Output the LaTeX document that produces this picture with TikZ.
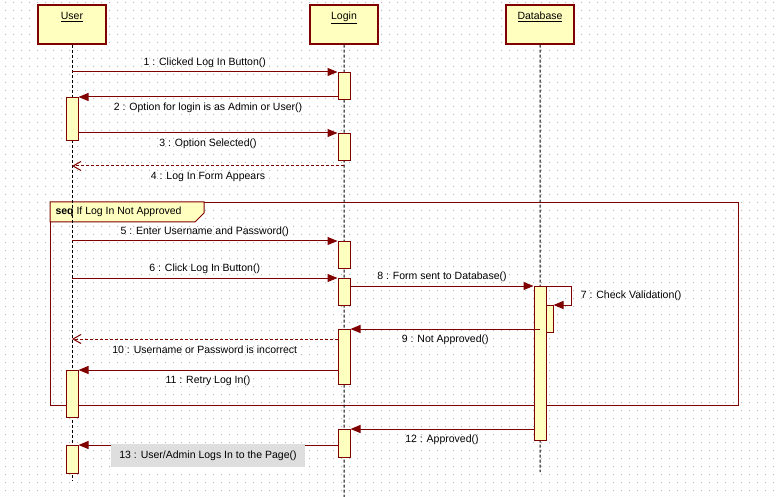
\documentclass[tikz,border=0pt]{standalone}
\usepackage{fontspec}
\setmainfont{Liberation Sans}
\usepackage{tikz}
\usetikzlibrary{positioning}
\usetikzlibrary{arrows.meta}
\definecolor{umlred}{HTML}{800000}
\definecolor{umlfill}{HTML}{FFFFC0}
\definecolor{dotgray}{HTML}{B8B8B8}

\begin{document}
\begin{tikzpicture}[x=1pt,y=-1pt,line width=1pt,
    every node/.style={font=\fontsize{10.5}{12}\selectfont},
    head/.style={draw=umlred, line width=1.3pt, fill=umlfill, minimum width=68pt, minimum height=39pt, text height=8pt, text depth=17pt, inner sep=0pt},
    bar/.style={draw=umlred, fill=umlfill, minimum width=12pt, inner sep=0pt, anchor=north},
    life/.style={black, dash pattern=on 3pt off 2pt},
    msg/.style={umlred, -{Triangle[length=10pt,width=8pt]}},
    reply/.style={umlred, dash pattern=on 3pt off 2pt, -{Straight Barb[length=8pt,width=9pt]}},
    msgup/.style={midway, yshift=9.5pt, text=black},
    msgdn/.style={midway, yshift=-11pt, text=black}]
    \useasboundingbox (0,0) rectangle (779,497);
    \fill[white] (0,0) rectangle (779,497);
    %Grid
    \fill[dotgray] \foreach \i in {0,...,96} {\foreach \j in {0,...,61} {(8*\i+5,8*\j+2) rectangle ++(1,1)}};
    %Frame
    \node[draw=umlred, minimum width=688pt, minimum height=203pt, anchor=north west, inner sep=0pt] (seqframe) at (50,202) {};
    \filldraw[draw=umlred, fill=umlfill] (seqframe.north west) -- ++(154,0) -- ++(0,11) -- ++(-9,9) -- ++(-145,0) -- cycle;
    \node[anchor=west, inner sep=0pt] (seqtag) at (55,212) {\textbf{seq} If Log In Not Approved};
    %Heads
    \node[head] (user) at (72,24.5) {\underline{User}};
    \node[head, right=202.7pt of user] (login) {\underline{Login}};
    \node[head, right=126.7pt of login] (db) {\underline{Database}};
    \coordinate (userend) at (72,480);
    \coordinate (loginend) at (344,497);
    \coordinate (dbend) at (540,472);
    %Lifelines
    \draw[life] (user.south) -- (userend);
    \draw[life] (login.south) -- (loginend);
    \draw[life] (db.south) -- (dbend);
    %Bars
    \node[bar, minimum height=27pt] (lb1) at (344,72) {};
    \node[bar, minimum height=43pt] (ub1) at (72,97) {};
    \node[bar, minimum height=27pt] (lb2) at (344,133) {};
    \node[bar, minimum height=27pt] (lb3) at (344,241) {};
    \node[bar, minimum height=27pt] (lb4) at (344,278) {};
    \node[bar, minimum height=27pt] (db2) at (547,305) {};
    \node[bar, minimum height=154pt] (db1) at (540,286) {};
    \node[bar, minimum height=55pt] (lb5) at (344,329) {};
    \node[bar, minimum height=47pt] (ub2) at (72,370) {};
    \node[bar, minimum height=28pt] (lb6) at (344,429) {};
    \node[bar, minimum height=28pt] (ub3) at (72,445) {};
    \coordinate (m4) at (344,166);
    \coordinate (m10) at ([yshift=-10pt]lb5.north west);
    %Messages
    \draw[msg] (user |- lb1.north) -- (lb1.north west) node[msgup] {1 : Clicked Log In Button()};
    \draw[msg] (lb1.west |- ub1.north) -- (ub1.north east) node[msgdn] {2 : Option for login is as Admin or User()};
    \draw[msg] (ub1.east |- lb2.north) -- (lb2.north west) node[msgdn] {3 : Option Selected()};
    \draw[reply] (m4) -- (user |- m4) node[msgdn] {4 : Log In Form Appears};
    \draw[msg] (user |- lb3.north) -- (lb3.north west) node[msgup] {5 : Enter Username and Password()};
    \draw[msg] (user |- lb4.north) -- (lb4.north west) node[msgup] {6 : Click Log In Button()};
    \draw[msg] (lb4.east |- db1.north) -- (db1.north west) node[msgup] {8 : Form sent to Database()};
    \draw[msg] (db |- db1.north) -- ++(31,0) |- (db2.north east) node[pos=0.25, right=6pt, text=black] {7 : Check Validation()};
    \draw[msg] (db |- lb5.north) -- (lb5.north east) node[msgdn] {9 : Not Approved()};
    \draw[reply] (m10) -- (user |- m10) node[msgdn] {10 : Username or Password is incorrect};
    \draw[msg] (lb5.west |- ub2.north) -- (ub2.north east) node[msgdn] {11 : Retry Log In()};
    \draw[msg] (db1.west |- lb6.north) -- (lb6.north east) node[msgdn] {12 : Approved()};
    \draw[msg] (lb6.west |- ub3.north) -- (ub3.north east) node[msgdn, fill=black!13, minimum width=194pt, minimum height=23pt, yshift=0.5pt] {13 : User/Admin Logs In to the Page()};
\end{tikzpicture}
\end{document}
